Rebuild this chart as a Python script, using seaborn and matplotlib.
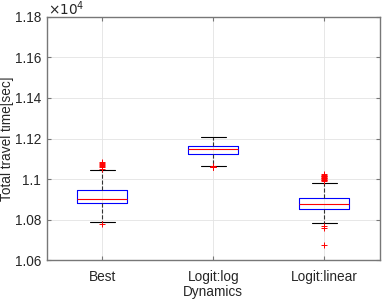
import numpy as np
import matplotlib
matplotlib.use("Agg")
import matplotlib.pyplot as plt
from matplotlib.ticker import FuncFormatter
import pandas as pd
import seaborn as sns

# travel times [sec] per dynamics run
best = [10780, 10789, 10815, 10835, 10850, 10862, 10870, 10877,
        10882, 10885, 10888, 10891, 10894, 10896, 10899, 10901,
        10903, 10908, 10914, 10920, 10926, 10932, 10938, 10944,
        10948, 11043, 11052, 11058, 11064, 11070, 11075, 11080, 11087]
logit_log = [11058, 11059, 11060, 11061, 11063, 11067, 11095, 11115,
             11125, 11128, 11131, 11134, 11137, 11140, 11143, 11146,
             11148, 11150, 11152, 11154, 11156, 11158, 11160, 11162,
             11164, 11170, 11175, 11180, 11185, 11190, 11195, 11200, 11207]
logit_linear = [10677, 10759, 10772, 10784, 10800, 10812, 10822, 10830,
                10837, 10843, 10848, 10851, 10854, 10856, 10858, 10860,
                10862, 10864, 10866, 10868, 10870, 10872, 10874, 10876,
                10877, 10879, 10881, 10884, 10886, 10889, 10891, 10894,
                10897, 10900, 10902, 10905, 10907, 10979, 10990, 10994,
                10998, 11002, 11005, 11008, 11011, 11014, 11018, 11022, 11026]
categories = ["Best", "Logit:log", "Logit:linear"]

df = pd.concat([
    pd.DataFrame({"Dynamics": name, "t": np.array(vals) / 1e4})
    for name, vals in zip(categories, [best, logit_log, logit_linear])
])

sns.set_style("ticks")
plt.rcParams["font.family"] = ["Liberation Sans", "DejaVu Sans"]

fig = plt.figure(figsize=(3.82, 2.99), dpi=100)
ax = fig.add_axes([0.1223, 0.1288, 0.8725, 0.8153])

sns.boxplot(data=df, x="Dynamics", y="t", order=categories, fill=False,
            width=0.45, whis=1.5, linewidth=0.8, ax=ax,
            boxprops=dict(color="blue"),
            medianprops=dict(color="red"),
            whiskerprops=dict(color="#333333", linestyle="--"),
            capprops=dict(color="black"),
            flierprops=dict(marker="+", markeredgecolor="red",
                            markerfacecolor="red", markersize=4,
                            markeredgewidth=0.7))

ax.set_ylim(1.06, 1.18)
ax.set_xlim(-0.5, 2.5)
ax.set_yticks(np.arange(1.06, 1.1801, 0.02))
ax.yaxis.set_major_formatter(FuncFormatter(lambda v, p: "%g" % round(v, 2)))
ax.grid(True, color="#e3e3e3", linewidth=0.6)
ax.set_axisbelow(True)
ax.tick_params(direction="in", length=3, width=0.8, color="#777777",
               labelsize=9.8, labelcolor="#262626", top=True, right=True)
ax.tick_params(axis="x", pad=7)
ax.tick_params(axis="y", pad=4)
for s in ax.spines.values():
    s.set_visible(True)
    s.set_color("#777777")
    s.set_linewidth(1.0)

ax.set_xlabel("Dynamics", fontsize=9.8, color="#262626")
ax.xaxis.set_label_coords(0.5, -0.1)
ax.set_ylabel("Total travel time[sec]", fontsize=9.8, color="#262626")
ax.yaxis.set_label_coords(-0.098, 0.5)
fig.text(0.126, 1 - 14.5 / 299, r"$\times10^4$", fontsize=9.8, color="#262626",
         ha="left", va="baseline", math_fontfamily="dejavusans")

fig.savefig("out.png", dpi=100)
